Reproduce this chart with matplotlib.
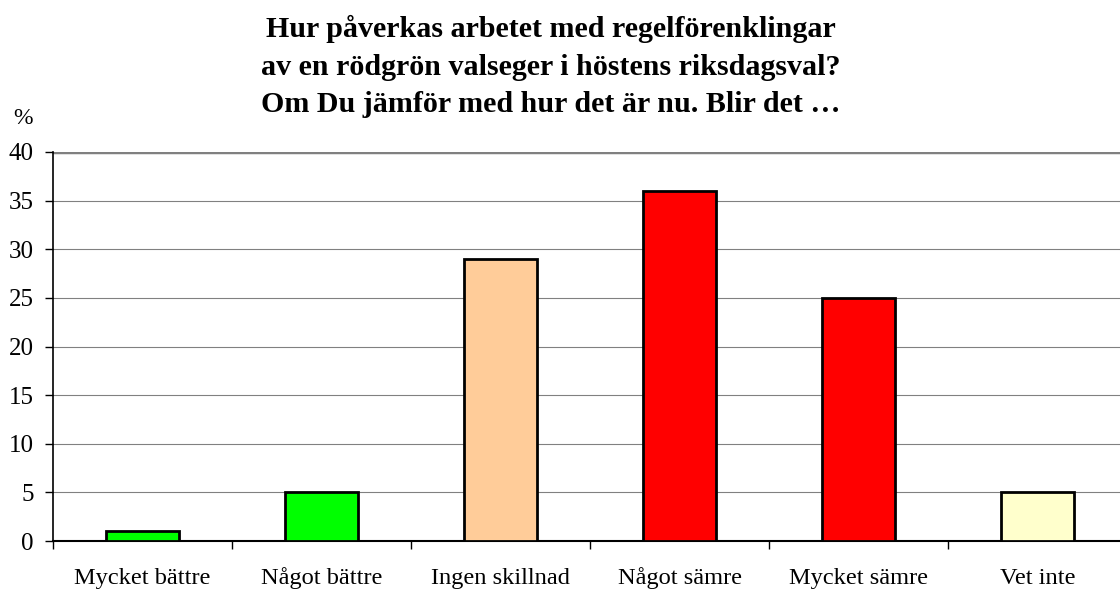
import numpy as np
import matplotlib
matplotlib.use('Agg')
import matplotlib.pyplot as plt

plt.rcParams['font.family'] = ['Liberation Serif', 'DejaVu Serif']

categories = ['Mycket bättre', 'Något bättre', 'Ingen skillnad',
              'Något sämre', 'Mycket sämre', 'Vet inte']
values = [1, 5, 29, 36, 25, 5]
colors = ['#00FF00', '#00FF00', '#FFCC99', '#FF0000', '#FF0000', '#FFFFCC']
yticks = [0, 5, 10, 15, 20, 25, 30, 35, 40]

title_lines = ['Hur påverkas arbetet med regelförenklingar',
               'av en rödgrön valseger i höstens riksdagsval?',
               'Om Du jämför med hur det är nu. Blir det …']

W, H = 1120, 593
fig = plt.figure(figsize=(W / 100, H / 100), dpi=100)
ax = fig.add_axes([53/W, 52/H, 1074/W, 389/H])

x = np.arange(len(categories))
ax.bar(x, values, width=0.41, color=colors, edgecolor='black', linewidth=2, zorder=3)

ax.set_xlim(-0.5, 5.5)
ax.set_ylim(0, 40)
ax.set_yticks(yticks)
ax.yaxis.grid(True, color='#808080', linewidth=0.8, zorder=0)
ax.axhline(40, color='#808080', linewidth=2.5, zorder=1)

# ticks at category boundaries, names written at the centres
ax.set_xticks(np.arange(-0.5, 6, 1.0))
ax.set_xticklabels([])
ax.tick_params(axis='x', length=6, width=1, direction='out')
for xi, name in zip(x, categories):
    ax.text(xi, -(584 - 541) / 389, name, transform=ax.get_xaxis_transform(),
            ha='center', va='baseline', fontsize=17.6)
ax.tick_params(axis='y', length=6, width=1, labelsize=18, pad=8)

for s in ['top', 'right']:
    ax.spines[s].set_visible(False)
ax.spines['left'].set_linewidth(1.2)
ax.spines['bottom'].set_linewidth(1.5)

for line, base in zip(title_lines, [37, 75, 112]):
    fig.text(551/W, 1 - base/H, line, ha='center', va='baseline',
             fontsize=21.6, fontweight='bold')
fig.text(23/W, 1 - 118/H, '%', ha='center', va='center', fontsize=17)

plt.savefig('out.png', dpi=100)
